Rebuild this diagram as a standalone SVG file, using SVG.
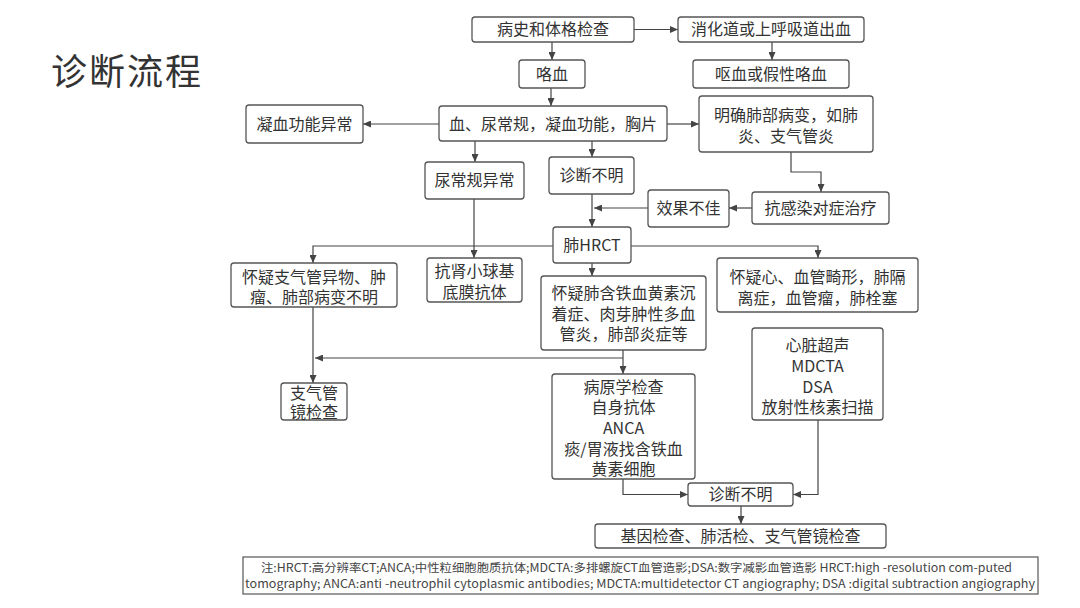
<svg xmlns="http://www.w3.org/2000/svg" width="1080" height="608" viewBox="0 0 1080 608">
<style>
.b{fill:#fff;stroke:#555;stroke-width:1.3}
.t{font-family:"Noto Sans CJK SC","Noto Sans",sans-serif;font-size:16px;fill:#333;text-anchor:middle}
.c{fill:none;stroke:#444;stroke-width:1.2}
.n{font-family:"Noto Sans CJK SC","Noto Sans",sans-serif;font-size:11.5px;fill:#444;text-anchor:middle}
</style>
<defs>
<marker id="a" markerUnits="userSpaceOnUse" markerWidth="9" markerHeight="7" refX="8" refY="3.5" orient="auto">
<path d="M0,0 L8,3.5 L0,7 z" fill="#444"/>
</marker>
</defs>
<rect width="1080" height="608" fill="#fff"/>
<text x="51" y="85" font-family="'Noto Sans CJK SC',sans-serif" font-size="36" letter-spacing="2" fill="#333">诊断流程</text>

<g id="connectors" class="c" marker-end="url(#a)">
<path d="M634,29.5 H678"/>
<path d="M552,42 V60"/>
<path d="M772,42 V60"/>
<path d="M551,88 V106"/>
<path d="M439,124 H363"/>
<path d="M667,124 H699"/>
<path d="M475,141 V162"/>
<path d="M592,141 V157"/>
<path d="M791,152 V172 H821 V192"/>
<path d="M752,208 H729"/>
<path d="M648,208 H594"/>
<path d="M592,194 V227"/>
<path d="M553,246 H313 V263"/>
<path d="M631,246 H818 V258"/>
<path d="M592,263 V276"/>
<path d="M474,199 V258"/>
<path d="M623,350 V374"/>
<path d="M623,358 H315"/>
<path d="M313,307 V383"/>
<path d="M623,479 V494.5 H688"/>
<path d="M818,420 V494.5 H793"/>
<path d="M741,506 V524"/>
</g>

<g id="n1"><rect class="b" x="472" y="17" width="162" height="25" rx="3"/><text class="t" x="553" y="35">病史和体格检查</text></g>
<g id="n2"><rect class="b" x="678" y="17" width="186" height="25" rx="3"/><text class="t" x="771" y="35">消化道或上呼吸道出血</text></g>
<g id="n3"><rect class="b" x="519" y="60" width="66" height="28" rx="3"/><text class="t" x="552" y="79.5">咯血</text></g>
<g id="n4"><rect class="b" x="693" y="60" width="156" height="28" rx="3"/><text class="t" x="771" y="79.5">呕血或假性咯血</text></g>
<g id="n5"><rect class="b" x="439" y="106" width="228" height="35" rx="3"/><text class="t" x="553" y="129.5">血、尿常规，凝血功能，胸片</text></g>
<g id="n6"><rect class="b" x="246" y="105" width="117" height="38" rx="3"/><text class="t" x="304.5" y="129.5">凝血功能异常</text></g>
<g id="n7"><rect class="b" x="699" y="96" width="174" height="56" rx="3"/><text class="t" x="786" y="120.5">明确肺部病变，如肺</text><text class="t" x="786" y="141.5">炎、支气管炎</text></g>
<g id="n8"><rect class="b" x="425" y="162" width="99" height="37" rx="3"/><text class="t" x="474.5" y="186">尿常规异常</text></g>
<g id="n9"><rect class="b" x="549" y="157" width="85" height="37" rx="3"/><text class="t" x="591.5" y="181">诊断不明</text></g>
<g id="n10"><rect class="b" x="752" y="192" width="137" height="32" rx="3"/><text class="t" x="820.5" y="213.5">抗感染对症治疗</text></g>
<g id="n11"><rect class="b" x="648" y="190" width="81" height="37" rx="3"/><text class="t" x="688.5" y="214">效果不佳</text></g>
<g id="n12"><rect class="b" x="553" y="227" width="78" height="36" rx="3"/><text class="t" x="592" y="250.5">肺HRCT</text></g>
<g id="n13"><rect class="b" x="231" y="263" width="166" height="44" rx="3"/><text class="t" x="314" y="282.5">怀疑支气管异物、肿</text><text class="t" x="314" y="302.5">瘤、肺部病变不明</text></g>
<g id="n14"><rect class="b" x="427" y="258" width="95" height="44" rx="3"/><text class="t" x="474.5" y="276.5">抗肾小球基</text><text class="t" x="474.5" y="297.5">底膜抗体</text></g>
<g id="n15"><rect class="b" x="541" y="276" width="165" height="74" rx="3"/><text class="t" x="623.5" y="298.5">怀疑肺含铁血黄素沉</text><text class="t" x="623.5" y="319.5">着症、肉芽肿性多血</text><text class="t" x="623.5" y="339.5">管炎，肺部炎症等</text></g>
<g id="n16"><rect class="b" x="717" y="258" width="201" height="54" rx="3"/><text class="t" x="817.5" y="282.5">怀疑心、血管畸形，肺隔</text><text class="t" x="817.5" y="303.5">离症，血管瘤，肺栓塞</text></g>
<g id="n17"><rect class="b" x="752" y="328" width="131" height="92" rx="3"/><text class="t" x="817.5" y="350.5">心脏超声</text><text class="t" x="817.5" y="371.5">MDCTA</text><text class="t" x="817.5" y="392.5">DSA</text><text class="t" x="817.5" y="412.5">放射性核素扫描</text></g>
<g id="n18"><rect class="b" x="281" y="383" width="66" height="37" rx="3"/><text class="t" x="314" y="398.5">支气管</text><text class="t" x="314" y="417.5">镜检查</text></g>
<g id="n19"><rect class="b" x="552" y="374" width="143" height="105" rx="3"/><text class="t" x="623.5" y="392.5">病原学检查</text><text class="t" x="623.5" y="412.5">自身抗体</text><text class="t" x="623.5" y="433.5">ANCA</text><text class="t" x="623.5" y="454.5">痰/胃液找含铁血</text><text class="t" x="623.5" y="474.5">黄素细胞</text></g>
<g id="n20"><rect class="b" x="688" y="483" width="105" height="23" rx="3"/><text class="t" x="740.5" y="500">诊断不明</text></g>
<g id="n21"><rect class="b" x="595" y="524" width="291" height="24" rx="3"/><text class="t" x="740.5" y="541.5">基因检查、肺活检、支气管镜检查</text></g>

<g id="note"><rect x="243" y="557" width="795" height="37" fill="#fff" stroke="#555" stroke-width="1.2"/>
<text class="n" x="636.5" y="571.5" textLength="751" lengthAdjust="spacingAndGlyphs">注:HRCT:高分辨率CT;ANCA;中性粒细胞胞质抗体;MDCTA:多排螺旋CT血管造影;DSA:数字减影血管造影 HRCT:high -resolution com-puted</text>
<text class="n" x="640" y="587.5" textLength="790" lengthAdjust="spacingAndGlyphs">tomography; ANCA:anti -neutrophil cytoplasmic antibodies; MDCTA:multidetector CT angiography; DSA :digital subtraction angiography</text>
</g>
</svg>
